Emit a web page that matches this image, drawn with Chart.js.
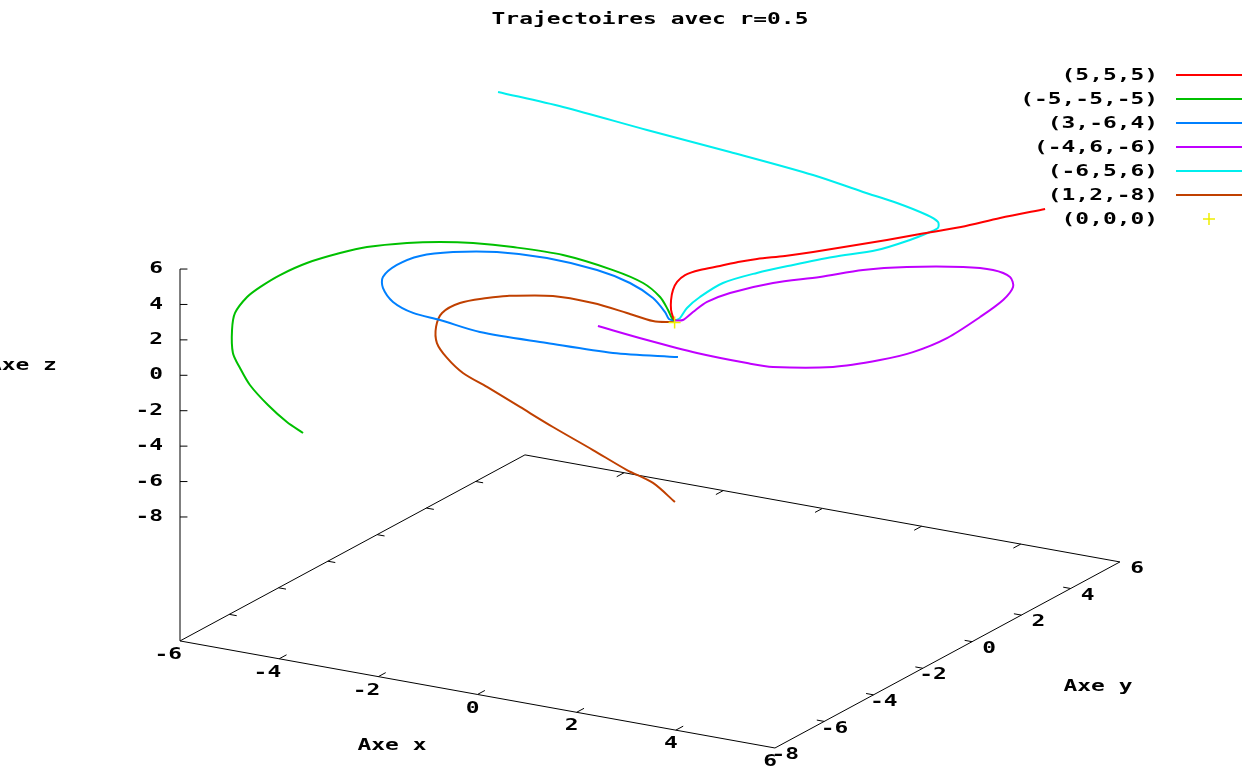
<!DOCTYPE html>
<html>
<head>
<meta charset="utf-8">
<title>Trajectoires avec r=0.5</title>
<script src="https://cdn.jsdelivr.net/npm/chart.js@4.4.1/dist/chart.umd.min.js"></script>
<style>
  html, body { margin: 0; padding: 0; background: #fff; }
  #wrap { width: 1246px; height: 769px; position: relative; }
</style>
</head>
<body>
<div id="wrap"><canvas id="chart"></canvas></div>
<script>
const titleText = "Trajectoires avec r=0.5";
const seriesLabels = ["(5,5,5)", "(-5,-5,-5)", "(3,-6,4)", "(-4,6,-6)", "(-6,5,6)", "(1,2,-8)"];
const originLabel = "(0,0,0)";
const xTicks = [-6, -4, -2, 0, 2, 4, 6];
const yTicks = [-8, -6, -4, -2, 0, 2, 4, 6];
const zTicks = [-8, -6, -4, -2, 0, 2, 4, 6];
const axisNames = ["Axe x", "Axe y", "Axe z"];

// trajectories as seen on the view plane, [u, v], one unit = one z unit
const traj1 = [[20.92, 6.41], [18.38, 5.90], [16.17, 5.39], [13.86, 5.00], [11.99, 4.66], [9.91, 4.32],
  [7.82, 3.98], [6.23, 3.76], [4.65, 3.59], [3.58, 3.42], [2.56, 3.19], [1.43, 2.96], [0.59, 2.68],
  [0.14, 2.29], [-0.09, 1.84], [-0.20, 1.27], [-0.20, 0.71], [-0.09, 0.31], [0.02, 0.11]];
const traj2 = [[-20.98, -6.24], [-21.89, -5.62], [-22.96, -4.66], [-23.98, -3.53], [-24.54, -2.57],
  [-24.94, -1.72], [-24.99, -0.42], [-24.82, 0.54], [-24.14, 1.44], [-23.41, 2.00], [-22.28, 2.68],
  [-20.76, 3.36], [-18.89, 3.92], [-17.37, 4.26], [-15.11, 4.49], [-13.25, 4.55], [-11.38, 4.49],
  [-9.13, 4.26], [-6.30, 3.81], [-3.48, 2.96], [-1.78, 2.23], [-0.82, 1.44], [-0.37, 0.71],
  [-0.15, 0.25], [0.02, 0.11]];
const traj3 = [[0.19, -1.95], [-3.48, -1.72], [-7.21, -1.16], [-10.99, -0.54], [-13.25, 0.14],
  [-14.77, 0.54], [-15.90, 1.16], [-16.47, 1.95], [-16.47, 2.57], [-15.68, 3.25], [-14.38, 3.76],
  [-12.51, 3.98], [-10.03, 3.98], [-7.21, 3.64], [-4.38, 2.96], [-2.52, 2.23], [-1.22, 1.38],
  [-0.54, 0.59], [-0.32, 0.20], [0.02, 0.11]];
const traj4 = [[-4.33, -0.20], [-1.56, -0.99], [1.26, -1.72], [4.09, -2.29], [5.56, -2.51], [8.94, -2.51],
  [11.60, -2.12], [13.46, -1.67], [15.38, -0.88], [17.25, 0.31], [18.55, 1.27], [19.11, 2.00],
  [18.94, 2.57], [17.98, 2.96], [16.29, 3.13], [13.12, 3.13], [10.64, 2.96], [8.21, 2.57],
  [5.56, 2.23], [3.13, 1.67], [1.83, 1.16], [1.04, 0.59], [0.47, 0.14], [0.02, 0.11]];
const traj5 = [[-9.97, 13.02], [-6.30, 12.17], [-1.56, 10.87], [3.13, 9.63], [7.82, 8.33], [10.64, 7.37],
  [12.56, 6.75], [14.25, 6.07], [14.87, 5.68], [14.87, 5.34], [14.42, 5.11], [13.29, 4.66],
  [11.43, 4.09], [8.94, 3.70], [6.69, 3.25], [4.65, 2.80], [2.73, 2.23], [1.43, 1.44], [0.70, 0.82],
  [0.30, 0.25], [0.02, 0.11]];
const traj6 = [[0.02, -10.14], [-1.22, -9.06], [-2.69, -8.33], [-4.61, -7.20], [-6.87, -5.90],
  [-8.73, -4.77], [-10.59, -3.64], [-11.95, -2.85], [-12.85, -2.00], [-13.42, -1.16], [-13.47, -0.25],
  [-13.13, 0.54], [-12.12, 1.10], [-10.59, 1.38], [-9.46, 1.50], [-6.87, 1.50], [-4.61, 1.10],
  [-2.69, 0.54], [-1.22, 0.08], [-0.26, 0.03], [0.02, 0.11]];
const trajectories = [traj1, traj2, traj3, traj4, traj5, traj6];

const lineColors = ["#ff0000", "#00c000", "#0080ff", "#c000ff", "#00eeee", "#c04000"];
const originColor = "#eeee00";

// gnuplot-like view: base plane sits half the z range under zmin
const zBase = -15;
function proj(x, y, z) {
  return { x: 2.7995 * x + 1.3913 * y, y: -0.5037 * x + 0.7504 * y + z };
}

const xMin = xTicks[0], xMax = xTicks[xTicks.length - 1];
const yMin = yTicks[0], yMax = yTicks[yTicks.length - 1];
const zMax = zTicks[zTicks.length - 1];

const boxData = [
  proj(xMin, yMin, zBase), proj(xMax, yMin, zBase), proj(xMax, yMax, zBase),
  proj(xMin, yMax, zBase), proj(xMin, yMin, zBase)
];
const zAxisData = [proj(xMin, yMin, zBase), proj(xMin, yMin, zMax)];

const gap = { x: NaN, y: NaN };
const tickData = [];
xTicks.slice(1, -1).forEach(t => {
  tickData.push(proj(t, yMin, zBase), proj(t, yMin + 0.3, zBase), gap);
  tickData.push(proj(t, yMax, zBase), proj(t, yMax - 0.3, zBase), gap);
});
yTicks.slice(1, -1).forEach(t => {
  tickData.push(proj(xMax, t, zBase), proj(xMax - 0.15, t, zBase), gap);
  tickData.push(proj(xMin, t, zBase), proj(xMin + 0.15, t, zBase), gap);
});
zTicks.forEach(t => {
  const p = proj(xMin, yMin, t);
  tickData.push(p, { x: p.x + 0.42, y: p.y }, gap);
});

const datasets = trajectories.map((tr, i) => ({
  label: seriesLabels[i],
  data: tr.map(p => ({ x: p[0], y: p[1] })),
  showLine: true,
  borderColor: lineColors[i],
  borderWidth: 2,
  pointRadius: 0,
  tension: 0.3,
  order: 1
}));
datasets.push({
  label: originLabel,
  data: [proj(0, 0, 0)],
  pointStyle: "cross",
  pointRadius: 6,
  borderColor: originColor,
  borderWidth: 1.5,
  order: 0
});
datasets.push({ label: "box", data: boxData, showLine: true, borderColor: "#000", borderWidth: 1, pointRadius: 0, order: 2 });
datasets.push({ label: "zaxis", data: zAxisData, showLine: true, borderColor: "#000", borderWidth: 1, pointRadius: 0, order: 2 });
datasets.push({ label: "ticks", data: tickData, showLine: true, spanGaps: false, borderColor: "#000", borderWidth: 1, pointRadius: 0, order: 2 });

// wide blocky text, like gnuplot's bitmap font
const FONT = 'bold 16px "DejaVu Sans Mono", "Liberation Mono", monospace';
const STRETCH = 1.43;

function text(ctx, s, x, y, align) {
  ctx.save();
  ctx.translate(x, y);
  ctx.scale(STRETCH, 1);
  ctx.textAlign = align;
  ctx.fillText(s, 0, 0);
  ctx.restore();
}

const gnuplotText = {
  id: "gnuplotText",
  afterDatasetsDraw(chart) {
    const ctx = chart.ctx;
    const sx = chart.scales.x, sy = chart.scales.y;
    const px = p => ({ x: sx.getPixelForValue(p.x), y: sy.getPixelForValue(p.y) });
    ctx.save();
    ctx.font = FONT;
    ctx.fillStyle = "#000";
    ctx.textBaseline = "middle";

    text(ctx, titleText, 650, 20, "center");

    xTicks.forEach(t => {
      const p = px(proj(t, yMin, zBase));
      text(ctx, String(t), p.x + 2, p.y + 14, "right");
    });
    yTicks.forEach(t => {
      const p = px(proj(xMax, t, zBase));
      text(ctx, String(t), p.x + 24, p.y + 7, "right");
    });
    zTicks.forEach(t => {
      const p = px(proj(xMin, yMin, t));
      text(ctx, String(t), p.x - 17, p.y, "right");
    });
    text(ctx, axisNames[0], 392, 746, "center");
    text(ctx, axisNames[1], 1098, 687, "center");
    // the z title runs off the left edge, as in gnuplot's output
    text(ctx, axisNames[2], -12, 366, "left");

    // key, top right
    const rows = seriesLabels.length + 1;
    for (let i = 0; i < rows; i++) {
      const y = 75 + i * 24;
      const label = i < seriesLabels.length ? seriesLabels[i] : originLabel;
      ctx.fillStyle = "#000";
      text(ctx, label, 1158, y + 1, "right");
      if (i < seriesLabels.length) {
        ctx.strokeStyle = lineColors[i];
        ctx.lineWidth = 2;
        ctx.beginPath();
        ctx.moveTo(1176, y);
        ctx.lineTo(1242, y);
        ctx.stroke();
      } else {
        ctx.strokeStyle = originColor;
        ctx.lineWidth = 1.5;
        ctx.beginPath();
        ctx.moveTo(1203, y);
        ctx.lineTo(1215, y);
        ctx.moveTo(1209, y - 6);
        ctx.lineTo(1209, y + 6);
        ctx.stroke();
      }
    }
    ctx.restore();
  }
};

const u = 17.71;
new Chart(document.getElementById("chart"), {
  type: "scatter",
  data: { datasets },
  options: {
    responsive: true,
    maintainAspectRatio: false,
    animation: false,
    layout: { padding: 0, autoPadding: false },
    plugins: { legend: { display: false }, tooltip: { enabled: false } },
    scales: {
      x: { type: "linear", display: false, min: -674.6 / u, max: (1246 - 674.6) / u },
      y: { type: "linear", display: false, min: -(769 - 322.5) / u, max: 322.5 / u }
    }
  },
  plugins: [gnuplotText]
});
</script>
</body>
</html>
